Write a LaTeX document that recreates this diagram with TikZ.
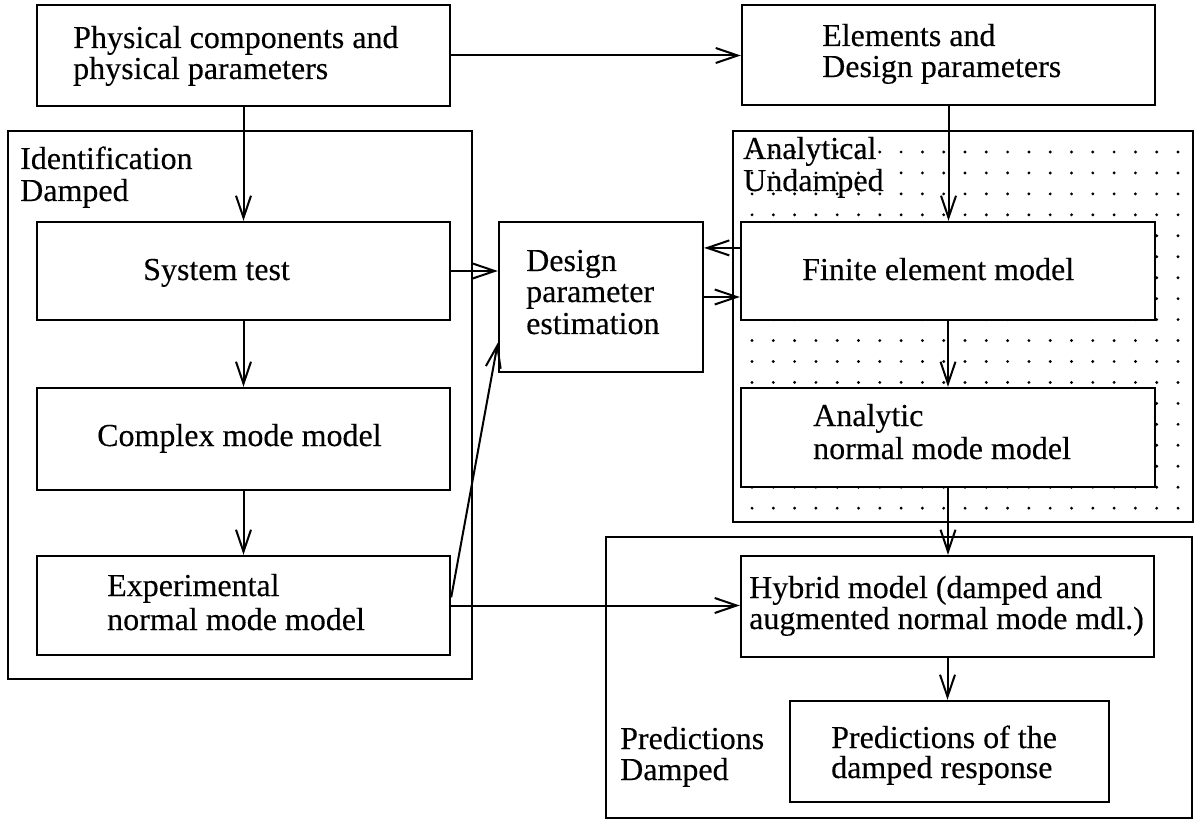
\documentclass[tikz,border=0pt]{standalone}
\usepackage{fontspec}
\setmainfont[FakeBold=0.25]{Liberation Serif}
\usetikzlibrary{arrows.meta,fit,calc}
\begin{document}
\begin{tikzpicture}[x=1pt,y=-1pt,
  box/.style={draw, line width=2.4pt, fill=white, inner sep=0pt},
  grp/.style={draw, line width=2.4pt, inner sep=0pt},
  txt/.style={anchor=base west, inner sep=0pt, font=\fontsize{32}{32}\selectfont},
  arr/.style={line width=2pt, -{Straight Barb[length=22pt,width=15pt,line width=2pt]}},
  dot/.style={fill=black}]
\useasboundingbox[fill=white] (0,0) rectangle (1195,821);

% groups
\node[grp, fit={(8,131) (472,679)}] (ident) {};
\node[grp, fit={(733,131) (1193,522)}] (analyt) {};
\node[grp, fit={(606,537) (1192,818)}] (pred) {};

% dot pattern of the analytical group
\foreach \i in {0,...,20}
  \foreach \j in {0,...,17}
    \fill[dot] ({752+21.3*\i},{152+20.95*\j}) circle[radius=1.6pt];

% boxes
\node[box, fit={(37,5) (450,106)}] (phys) {};
\node[box, fit={(742,5) (1155,105)}] (elem) {};
\node[box, fit={(37,222) (450,320)}] (st) {};
\node[box, fit={(37,388) (450,490)}] (cm) {};
\node[box, fit={(37,556) (450,655)}] (exp) {};
\node[box, fit={(499,222) (703,372)}] (dpe) {};
\node[box, fit={(741,222) (1155,320)}] (fe) {};
\node[box, fit={(741,388) (1155,487)}] (anm) {};
\node[box, fit={(741,556) (1154,657)}] (hyb) {};
\node[box, fit={(790,701) (1109,802)}] (pr) {};

% connectors
\draw[arr] (phys.east) -- (phys.east -| elem.west);
\draw[arr] (phys.south) -- (st.north);
\draw[arr] (st.south) -- (cm.north);
\draw[arr] (cm.south) -- (exp.north);
\draw[arr] (st.east) -- (st.east -| dpe.west);
\draw[arr] ($(fe.north west)!.27!(fe.south west)$) coordinate (fa) -- (fa -| dpe.east);
\draw[arr] (dpe.east) -- (dpe.east -| fe.west);
\draw[arr] ($(exp.north east)!.42!(exp.south east)$) -- ($(dpe.north west)!.8!(dpe.south west)$);
\draw[arr] ($(exp.north east)!.5!(exp.south east)$) coordinate (ea) -- (ea -| hyb.west);
\draw[arr] (elem.south) -- (elem.south |- fe.north);
\draw[arr] (fe.south) -- (anm.north);
\draw[arr] (anm.south) -- (anm.south |- hyb.north);
\draw[arr] (hyb.south) -- (hyb.south |- pr.north);

% texts
\node[txt] (t1a) at (73,48) {Physical components and};
\node[txt] (t1b) at (73,79) {physical parameters};
\node[txt] (t2a) at (822,46) {Elements and};
\node[txt] (t2b) at (822,77) {Design parameters};
\node[txt] (g1a) at (20,169) {Identification};
\node[txt] (g1b) at (20,201) {Damped};
\node[txt] (t3) at (143,280) {System test};
\node[txt] (t4) at (97,446) {Complex mode model};
\node[txt] (t5a) at (107,596) {Experimental};
\node[txt] (t5b) at (107,630) {normal mode model};
\node[txt] (t6a) at (526,271) {Design};
\node[txt] (t6b) at (526,302) {parameter};
\node[txt] (t6c) at (526,334) {estimation};
\node[txt] (g2a) at (743,159) {Analytical};
\node[txt] (g2b) at (743,191) {Undamped};
\node[txt] (t7) at (802,280) {Finite element model};
\node[txt] (t8a) at (813,426) {Analytic};
\node[txt] (t8b) at (813,459) {normal mode model};
\node[txt] (t9a) at (749,598) {Hybrid model (damped and};
\node[txt] (t9b) at (749,629) {augmented normal mode mdl.)};
\node[txt] (g3a) at (620,749) {Predictions};
\node[txt] (g3b) at (620,780) {Damped};
\node[txt] (t10a) at (831,748) {Predictions of the};
\node[txt] (t10b) at (831,778) {damped response};
\end{tikzpicture}
\end{document}
